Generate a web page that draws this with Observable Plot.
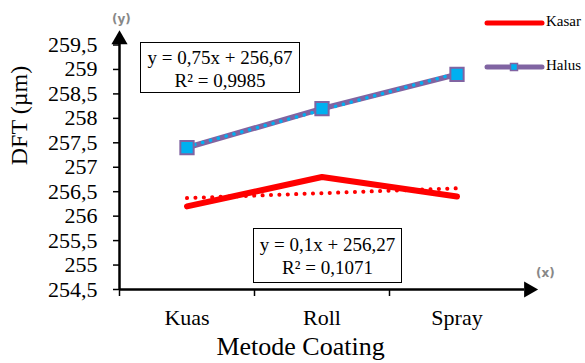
<!DOCTYPE html>
<html>
<head>
<meta charset="utf-8">
<script src="https://cdn.jsdelivr.net/npm/d3@7"></script>
<script src="https://cdn.jsdelivr.net/npm/@observablehq/plot@0.6"></script>
<style>
  html, body { margin: 0; padding: 0; background: #fff; }
  #wrap { position: relative; width: 585px; height: 363px; font-family: "Liberation Serif", "Times New Roman", serif; }
  .box { position: absolute; border: 1.5px solid #000; background: #fff; box-sizing: border-box;
         font-family: "Liberation Serif", serif; font-size: 19px; line-height: 23px; text-align: center; padding-top: 3px; color: #000; }
  .leg { position: absolute; font-family: "Liberation Serif", serif; font-size: 15px; color: #000; }
  .tag { position: absolute; font-family: "DejaVu Sans", sans-serif; font-weight: bold; font-size: 12px; color: #888; }
</style>
</head>
<body>
<div id="wrap"></div>
<script>
// ---- data ----
const categories = ["Kuas", "Roll", "Spray"];
const kasar = [256.2, 256.8, 256.4];
const halus = [257.4, 258.2, 258.9];
const kasarTrend = { slope: 0.1, intercept: 256.27, label: "y = 0,1x + 256,27", r2: "R² = 0,1071" };
const halusTrend = { slope: 0.75, intercept: 256.67, label: "y = 0,75x + 256,67", r2: "R² = 0,9985" };
const yTicks = [254.5, 255, 255.5, 256, 256.5, 257, 257.5, 258, 258.5, 259, 259.5];
const seriesNames = ["Kasar", "Halus"];
const xTitle = "Metode Coating";
const yTitle = "DFT (µm)";

// ---- derived tables ----
const rows = (vals) => categories.map((c, i) => ({ cat: c, x: i + 0.5, y: vals[i] }));
const trendRows = (t) => categories.map((c, i) => ({ x: i + 0.5, y: t.intercept + t.slope * (i + 1) }));
const kasarRows = rows(kasar), halusRows = rows(halus);
const fmt = (d) => String(d).replace(".", ",");

const RED = "#FF0000", PURPLE = "#8064A2", CYAN = "#00B0F0";
const FONT = "Liberation Serif";

const chart = Plot.plot({
  width: 585,
  height: 363,
  marginLeft: 119,
  marginRight: 61,
  marginTop: 44.5,
  marginBottom: 74,
  style: { fontFamily: FONT, fontSize: "22px", color: "#000", background: "#fff" },
  x: { domain: [0, 3] },
  y: { domain: [254.5, 259.5] },
  marks: [
    // axes
    Plot.axisY({ ticks: yTicks, tickSize: 6, tickPadding: 16, tickFormat: fmt, label: null,
                 fontSize: 22, fontFamily: FONT, strokeWidth: 1.5 }),
    Plot.axisX({ ticks: [0, 1, 2], tickSize: 7, tickFormat: () => "", label: null, strokeWidth: 1.5 }),
    Plot.axisX({ ticks: kasarRows.map(d => d.x), tickSize: 0, tickPadding: 20,
                 tickFormat: (v) => categories[Math.round(v - 0.5)], label: null,
                 fontSize: 22, fontFamily: FONT }),
    Plot.ruleY([254.5], { x1: 0, x2: 3.0, stroke: "#000", strokeWidth: 2.5 }),
    Plot.ruleX([0], { y1: 254.5, y2: 259.55, stroke: "#000", strokeWidth: 2.5 }),
    Plot.dot([0], { x: 0, y: 259.61, symbol: "triangle", r: 6, fill: "#000", stroke: "none" }),
    Plot.dot([0], { x: 3.032, y: 254.5, symbol: "triangle", r: 6, rotate: 90, fill: "#000", stroke: "none" }),
    // Kasar
    Plot.line(kasarRows, { x: "x", y: "y", stroke: RED, strokeWidth: 6, strokeLinecap: "round", strokeLinejoin: "miter" }),
    Plot.line(trendRows(kasarTrend), { x: "x", y: "y", stroke: RED, strokeWidth: 4, strokeDasharray: "0.1,8.3", strokeLinecap: "round" }),
    // Halus
    Plot.line(halusRows, { x: "x", y: "y", stroke: PURPLE, strokeWidth: 5.5 }),
    Plot.line(trendRows(halusTrend), { x: "x", y: "y", stroke: CYAN, strokeWidth: 3.5, strokeDasharray: "0.1,8", strokeLinecap: "round" }),
    Plot.dot(halusRows, { x: "x", y: "y", symbol: "square", r: 7.5, fill: CYAN, stroke: PURPLE, strokeWidth: 2 }),
    // titles
    Plot.text([xTitle], { frameAnchor: "bottom", text: d => d, dx: -21.5, dy: 65, fontSize: 26, fontFamily: FONT, fill: "#000" }),
    Plot.text([yTitle], { frameAnchor: "left", text: d => d, dx: -100, dy: -2, rotate: -90, fontSize: 24, fontFamily: FONT, fill: "#000" })
  ]
});

const wrap = document.getElementById("wrap");
wrap.appendChild(chart);

function add(html) { wrap.insertAdjacentHTML("beforeend", html); }
// equation boxes
add(`<div class="box" style="left:140px;top:42px;width:160px;height:51px;">${halusTrend.label}<br>${halusTrend.r2}</div>`);
add(`<div class="box" style="left:253px;top:228px;width:149px;height:55px;padding-top:4px;">${kasarTrend.label}<br>${kasarTrend.r2}</div>`);
// axis tags
add(`<div class="tag" style="left:112px;top:12px;">(y)</div>`);
add(`<div class="tag" style="left:536px;top:266px;">(x)</div>`);
// legend
add(`<svg style="position:absolute;left:480px;top:10px;" width="70" height="70">
  <line x1="7" y1="13" x2="62" y2="13" stroke="${RED}" stroke-width="5" stroke-linecap="round"/>
  <line x1="7" y1="57" x2="62" y2="57" stroke="${PURPLE}" stroke-width="5" stroke-linecap="round"/>
  <rect x="30.5" y="53.5" width="7" height="7" fill="${CYAN}" stroke="${PURPLE}" stroke-width="1.5"/>
</svg>`);
add(`<div class="leg" style="left:546px;top:13px;">${seriesNames[0]}</div>`);
add(`<div class="leg" style="left:546px;top:57px;">${seriesNames[1]}</div>`);
</script>
</body>
</html>
